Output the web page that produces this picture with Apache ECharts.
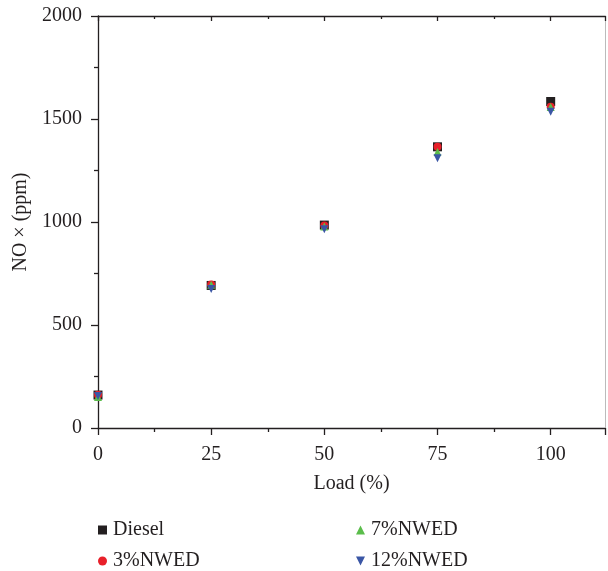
<!DOCTYPE html>
<html>
<head>
<meta charset="utf-8">
<script src="https://cdn.jsdelivr.net/npm/echarts@6/dist/echarts.min.js"></script>
<style>
html,body{margin:0;padding:0;background:#fff;}
#chart{width:608px;height:571px;}
</style>
</head>
<body>
<div id="chart"></div>
<script>
// Engine load (%) and measured NOx (ppm) for each fuel blend
const loads = [0, 25, 50, 75, 100];
const diesel = [160, 692, 985, 1365, 1585];
const nwed3 = [162, 697, 983, 1365, 1560];
const nwed7 = [150, 695, 978, 1340, 1558];
const nwed12 = [155, 675, 965, 1310, 1535];
const xTicks = [0, 25, 50, 75, 100];
const yTicks = [0, 500, 1000, 1500, 2000];

const ink = '#231f20';
const font = 'Liberation Serif';

function pairs(vals) { return loads.map((x, i) => [x, vals[i]]); }

const chart = echarts.init(document.getElementById('chart'));
const textStyle = { fontFamily: font, fontSize: 20, color: ink };

// one legend box per entry, laid out as a 2x2 block
function legendItem(name, icon, left, top) {
  return {
    left: left, top: top, orient: 'horizontal',
    itemWidth: 9, itemHeight: 9, itemGap: 6,
    textStyle: { fontFamily: font, fontSize: 20, color: ink, padding: [0, 0, 0, 1] },
    data: [{ name: name, icon: icon }]
  };
}

chart.setOption({
  animation: false,
  textStyle: { fontFamily: font },
  grid: { left: 98, right: 1, top: 16, bottom: 143 },
  xAxis: [{
    type: 'value', min: 0, max: 112, interval: 25,
    name: 'Load (%)', nameLocation: 'middle', nameGap: 46,
    nameTextStyle: textStyle,
    axisLine: { show: true, onZero: false, lineStyle: { color: ink, width: 1.3 } },
    axisTick: { show: true, inside: false, length: 7, lineStyle: { color: ink, width: 1.3 } },
    minorTick: { show: true, splitNumber: 2, length: 4, lineStyle: { color: ink, width: 1.3 } },
    axisLabel: { ...textStyle, margin: 17, formatter: v => xTicks.includes(v) ? String(v) : '' },
    splitLine: { show: false }
  }, {
    type: 'value', min: 0, max: 112, interval: 25, position: 'top',
    axisLine: { show: true, onZero: false, lineStyle: { color: ink, width: 1.3 } },
    axisTick: { show: true, inside: true, length: 5, lineStyle: { color: ink, width: 1.3 } },
    minorTick: { show: true, splitNumber: 2, length: 3, lineStyle: { color: ink, width: 1.3 } },
    axisLabel: { show: false },
    splitLine: { show: false }
  }],
  yAxis: [{
    type: 'value', min: 0, max: 2000, interval: 500,
    name: 'NO × (ppm)', nameLocation: 'middle', nameGap: 60, nameRotate: 90,
    nameTextStyle: textStyle,
    axisLine: { show: true, onZero: false, lineStyle: { color: ink, width: 1.3 } },
    axisTick: { show: true, inside: false, length: 7, lineStyle: { color: ink, width: 1.3 } },
    minorTick: { show: true, splitNumber: 2, length: 4, lineStyle: { color: ink, width: 1.3 } },
    axisLabel: { ...textStyle, margin: 16, formatter: v => yTicks.includes(v) ? String(v) : '' },
    splitLine: { show: false }
  }, {
    type: 'value', min: 0, max: 2000, interval: 500, position: 'right',
    axisLine: { show: true, onZero: false, lineStyle: { color: '#bbbbbb', width: 1 } },
    axisTick: { show: false },
    axisLabel: { show: false },
    splitLine: { show: false }
  }],
  legend: [
    legendItem('Diesel', 'rect', 93, 515),
    legendItem('3%NWED', 'circle', 93, 546),
    legendItem('7%NWED', 'triangle', 351, 515),
    legendItem('12%NWED', 'path://M0,0 L10,0 L5,10 Z', 351, 546)
  ],
  series: [{
    name: 'Diesel', type: 'scatter', symbol: 'rect', symbolSize: 9,
    itemStyle: { color: ink, opacity: 1 }, data: pairs(diesel)
  }, {
    name: '3%NWED', type: 'scatter', symbol: 'circle', symbolSize: 8,
    itemStyle: { color: '#e8202a', opacity: 1 }, data: pairs(nwed3)
  }, {
    name: '7%NWED', type: 'scatter', symbol: 'triangle', symbolSize: 8,
    itemStyle: { color: '#5bbd4b', opacity: 1 }, data: pairs(nwed7)
  }, {
    name: '12%NWED', type: 'scatter', symbol: 'triangle', symbolSize: 8, symbolRotate: 180,
    itemStyle: { color: '#3a56a5', opacity: 1 }, data: pairs(nwed12)
  }]
});
</script>
</body>
</html>
